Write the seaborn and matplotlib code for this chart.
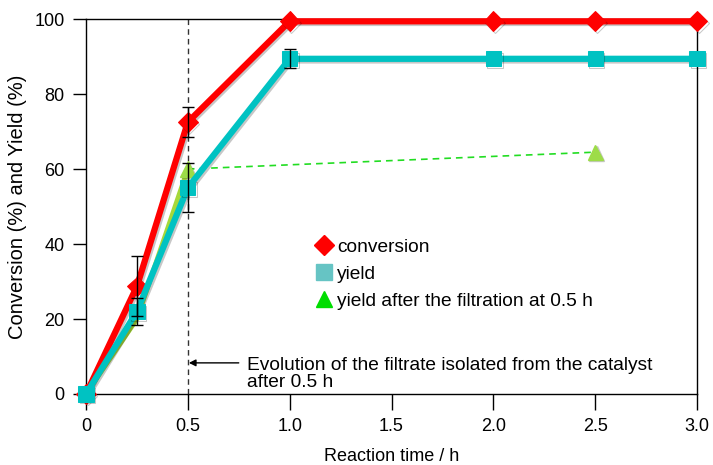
import numpy as np
import pandas as pd
import matplotlib
matplotlib.use("Agg")
import matplotlib.pyplot as plt
import matplotlib.patheffects as pe
from matplotlib.lines import Line2D
import seaborn as sns

# data
time_h = [0, 0.25, 0.5, 1.0, 2.0, 2.5, 3.0]
conversion = [0, 28.7, 72.5, 99.4, 99.4, 99.4, 99.4]
conversion_err = [0, 8.0, 4.0, 0, 0, 0, 0]
yield_pct = [0, 22.0, 55.0, 89.4, 89.4, 89.4, 89.4]
yield_err = [0, 3.5, 6.5, 2.5, 0, 0, 0]
filt_time = [0, 0.25, 0.5, 2.5]
filt_yield = [0, 20.0, 60.0, 64.5]

xticks = [0, 0.5, 1.0, 1.5, 2.0, 2.5, 3.0]
xticklabels = ["0", "0.5", "1.0", "1.5", "2.0", "2.5", "3.0"]
yticks = [0, 20, 40, 60, 80, 100]

sns.set_style("ticks")
plt.rcParams['font.family'] = ['Liberation Sans', 'DejaVu Sans']
for key in ['text.color', 'axes.labelcolor', 'xtick.color', 'ytick.color']:
    plt.rcParams[key] = 'black'

fig = plt.figure(figsize=(7.13, 4.65), dpi=100)
ax = fig.add_axes([0.1206, 0.1527, 0.857, 0.8063])

shadow = [pe.SimpleLineShadow(offset=(1.2, -1.2), alpha=0.22, shadow_color='k'), pe.Normal()]

# filtration series: solid up to 0.5 h, dashed afterwards
ax.plot(filt_time[:3], filt_yield[:3], color='#a6d83a', lw=3.5, zorder=2)
ax.plot(filt_time[2:], filt_yield[2:], color='#22dd22', lw=1.2, ls=(0, (4, 3)), zorder=2)
ax.plot(filt_time[2:], filt_yield[2:], ls='none', marker='^', ms=11, color='#9ddc48',
        path_effects=shadow, zorder=2, clip_on=False)

df = pd.DataFrame({"time": time_h, "conversion": conversion, "yield": yield_pct})
sns.lineplot(data=df, x="time", y="conversion", ax=ax, color='#ff0000', lw=4.5,
             marker='D', ms=10, mec='#ff0000', path_effects=shadow, zorder=3, clip_on=False)
sns.lineplot(data=df, x="time", y="yield", ax=ax, color='#00c2c2', lw=4.5,
             marker='s', ms=11, mec='#00c2c2', path_effects=shadow, zorder=4, clip_on=False)

# error bars only where an error was reported
for ys, es in [(yield_pct, yield_err), (conversion, conversion_err)]:
    idx = [i for i, e in enumerate(es) if e > 0]
    ax.errorbar([time_h[i] for i in idx], [ys[i] for i in idx], yerr=[es[i] for i in idx],
                fmt='none', ecolor='k', elinewidth=1, capsize=4, capthick=1, zorder=5)

ax.axvline(0.5, color='#333333', lw=1, ls=(0, (4, 3)), zorder=1)

ax.annotate("", xy=(0.505, 8.3), xytext=(0.75, 8.3),
            arrowprops=dict(arrowstyle='-|>', color='k', lw=1, shrinkA=0, shrinkB=0,
                            mutation_scale=10))
ax.text(0.79, 5.3, "Evolution of the filtrate isolated from the catalyst\nafter 0.5 h",
        fontsize=13.8, va='center', ha='left', linespacing=1.0)

ax.set_xlim(0, 3.0)
ax.set_ylim(0, 100)
ax.set_xticks(xticks)
ax.set_xticklabels(xticklabels)
ax.set_yticks(yticks)
ax.tick_params(axis='x', direction='out', length=11.5, width=1, labelsize=13, pad=6)
ax.tick_params(axis='y', direction='out', length=9.5, width=1, labelsize=13, pad=6)
for s in ax.spines.values():
    s.set_color('k')
    s.set_linewidth(1)
ax.set_xlabel("Reaction time / h", fontsize=13, labelpad=9)
ax.set_ylabel("Conversion (%) and Yield (%)", fontsize=14.5, labelpad=5)

handles = [
    Line2D([], [], ls='none', marker='D', ms=10, color='#ff0000'),
    Line2D([], [], ls='none', marker='s', ms=11, color='#66c4c4'),
    Line2D([], [], ls='none', marker='^', ms=11, color='#00dd00'),
]
ax.legend(handles, ["conversion", "yield", "yield after the filtration at 0.5 h"],
          loc='upper left', bbox_to_anchor=(0.355, 0.44), frameon=False, fontsize=13.8,
          handletextpad=0.1, labelspacing=0.5, handlelength=1.2, borderpad=0)

fig.savefig("out.png", dpi=100)
